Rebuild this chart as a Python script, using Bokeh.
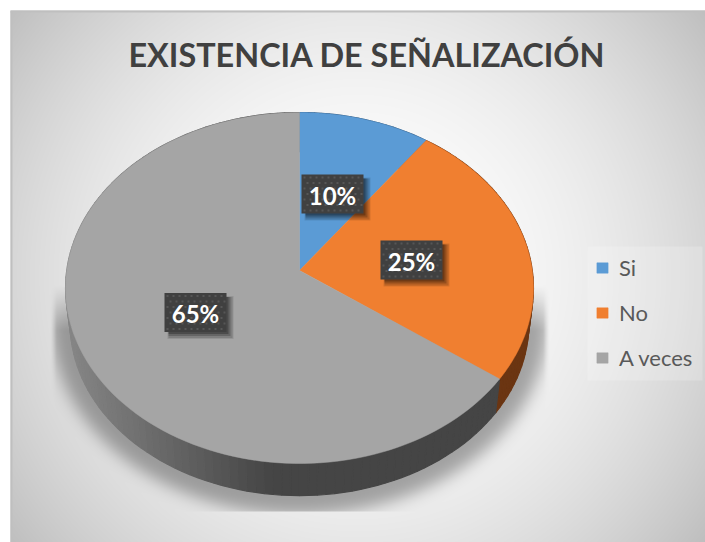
import numpy as np
from bokeh.plotting import figure
from bokeh.models import Legend, LegendItem
from bokeh.core.properties import value
from bokeh.embed import file_html
from bokeh.resources import INLINE

TITLE = "EXISTENCIA DE SEÑALIZACIÓN"
categories = ["Si", "No", "A veces"]
values = [10, 25, 65]
labels = ["10%", "25%", "65%"]
colors = ["#5b9bd5", "#f07f30", "#a5a5a5"]
wall_colors = ["#3a5f82", "#6b3512", "#454545"]
label_pos = [(332, 193.5), (411, 259.5), (195, 312)]

FONT = "Lato"
PW, PH = 705, 542
# top face of the tilted pie, in page pixels
CX, CY = 299, 270
A, B, K = 173.75, 232.8, 0.0997
# base of the pie: same outline, slightly smaller and lower
S, BY = 0.98, 306


def top_pt(t):
    u, v = np.sin(t), np.cos(t)
    d = 1 + K * v
    return CX + B * u / d, CY - A * v / d


def base_pt(t):
    x, y = top_pt(t)
    return CX + (x - CX) * S, BY + (y - CY) * S


p = figure(width=PW, height=PH, x_range=(0, PW), y_range=(-PH, 0),
           output_backend="svg", toolbar_location=None, min_border=0,
           x_axis_type=None, y_axis_type=None, outline_line_color=None,
           background_fill_color="white", border_fill_color="white")
p.grid.visible = False

# backdrop: radial grey gradient and the soft shadow under the pie
W, H = 695, 532
yy, xx = np.mgrid[10:10 + H, 10:10 + W] + 0.5
rad = np.hypot(xx - 357, yy - 275) / np.hypot(347, 266)
bg = 255 - 64 * rad ** 2
mask = (((xx - 299) / 248.0) ** 2 + ((yy - 322) / 192.0) ** 2 < 1).astype(float)
ker = np.exp(-0.5 * (np.arange(-24, 25) / 8.0) ** 2)
ker /= ker.sum()
sh = np.apply_along_axis(lambda r: np.convolve(r, ker, "same"), 1, mask)
sh = np.apply_along_axis(lambda c: np.convolve(c, ker, "same"), 0, sh)
fade = np.clip((yy - 285) / 45.0, 0, 1)
side = np.clip((xx - 50) / 6.0, 0, 1) * np.clip((549 - xx) / 6.0, 0, 1)
sh = sh * fade * side * 0.33
sh[yy > 511] = 0
g = np.clip(bg * (1 - sh), 0, 255).astype(np.uint32)
img = (255 << 24) | (g << 16) | (g << 8) | g
p.image_rgba(image=[np.flipud(img)], x=10, y=-(10 + H), dw=W, dh=H)

# frame edges
p.line([11, 11], [-542, -11], line_color="#bfbfbf", line_width=2)
p.line([10, 705], [-11, -11], line_color="#bfbfbf", line_width=2)

# pie
frac = np.cumsum([0] + values) / sum(values) * 2 * np.pi
wx, wy, wc = [], [], []
for i in range(len(values)):
    ts = np.arange(frac[i], frac[i + 1] + 1e-6, np.radians(2))
    ts = np.append(ts, frac[i + 1])
    for a, b in zip(ts[:-1], ts[1:]):
        xa, ya = top_pt(a); xb, yb = top_pt(b)
        xc, yc = base_pt(b); xd, yd = base_pt(a)
        wx.append([xa, xb, xc, xd])
        wy.append([-ya, -yb, -yc, -yd])
        if i == 2:
            f = min(max(((xa + xb) / 2 - 70) / 200.0, 0), 1)
            c = int(round(0x85 + (0x45 - 0x85) * f))
            wc.append("#%02x%02x%02x" % (c, c, c))
        else:
            wc.append(wall_colors[i])
p.patches(wx, wy, fill_color=wc, line_color=wc, line_width=1.2)

slices = []
for i in range(len(values)):
    ts = np.linspace(frac[i], frac[i + 1], 120)
    x, y = top_pt(ts)
    xs = np.concatenate([[CX], x])
    ys = -np.concatenate([[CY], y])
    slices.append(p.patch(xs, ys, fill_color=colors[i], line_color=colors[i], line_width=0.5))

# data labels
BW, BH = 62, 39
for (lx, ly), txt in zip(label_pos, labels):
    for off, grow, al in [(5, 2, 0.10), (5, 1, 0.14), (4, 0, 0.2), (3, -1, 0.25)]:
        p.rect(lx + off, -(ly + off), width=BW + grow * 2, height=BH + grow * 2,
               fill_color="black", fill_alpha=al, line_color=None)
    p.rect(lx, -ly, width=BW, height=BH, fill_color="#404040", line_color=None)
    dx, dy = [], []
    for r, yo in enumerate(np.arange(-BH / 2 + 3, BH / 2, 5.5)):
        for xo in np.arange(-BW / 2 + (3 if r % 2 == 0 else 6), BW / 2 - 1, 6):
            dx.append(lx + xo)
            dy.append(-(ly + yo))
    p.rect(dx, dy, width=2, height=2, fill_color="#565656", line_color=None)
    p.text([lx], [-ly - 1], text=[txt], text_color="white", text_font=value(FONT),
           text_font_style="bold", text_font_size="24px", text_align="center",
           text_baseline="middle")

# title
p.text([366.5], [-54], text=[TITLE], text_color="#404040", text_font=value(FONT),
       text_font_style="bold", text_font_size="32.4px", text_align="center",
       text_baseline="alphabetic")

# legend panel and legend
p.quad(left=[587], right=[702], top=[-246], bottom=[-380], fill_color="white",
       fill_alpha=0.2, line_color=None)
legend = Legend(
    items=[LegendItem(label=c, renderers=[r]) for c, r in zip(categories, slices)],
    location=(595, 171), orientation="vertical", margin=0, padding=10,
    spacing=18, glyph_width=14, glyph_height=13, label_standoff=10, label_height=24,
    label_text_font=FONT, label_text_font_size="22px", label_text_color="#595959",
    background_fill_alpha=0, border_line_color=None,
)
p.add_layout(legend, "center")

open("out.html", "w").write(file_html(p, INLINE))
